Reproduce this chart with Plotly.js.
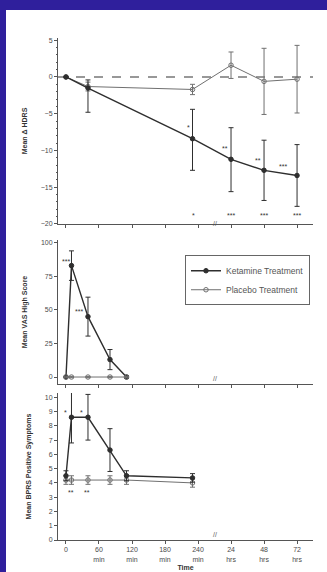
<!DOCTYPE html>
<html>
<head>
<meta charset="utf-8">
<script src="https://cdn.plot.ly/plotly-3.0.1.min.js"></script>
<style>
  html, body { margin: 0; padding: 0; background: #2f1f9c; width: 327px; height: 572px; overflow: hidden; }
  #chart { position: absolute; left: 6px; top: 10px; width: 321px; height: 562px; background: #fff; }
</style>
</head>
<body>
<div id="chart"></div>
<script>
// ---- Data ----
// x positions: minutes 0..240, then 24 hrs -> 300, 48 hrs -> 360, 72 hrs -> 420 (broken axis)
const tickVals = [0, 60, 120, 180, 240, 300, 360, 420];
const tickText = ["0", "60<br>min", "120<br>min", "180<br>min", "240<br>min", "24<br>hrs", "48<br>hrs", "72<br>hrs"];

// Panel 1: Mean change in HDRS
const timeHdrs = [0, 40, 230, 300, 360, 420];
const hdrsKet = [0, -1.5, -8.4, -11.2, -12.7, -13.4];
const hdrsKetErrPlus = [0, 1.1, 4.0, 4.3, 4.1, 4.2];
const hdrsKetErrMinus = [0, 3.3, 4.3, 4.4, 4.1, 4.2];
const hdrsPla = [0, -1.3, -1.7, 1.6, -0.6, -0.3];
const hdrsPlaErr = [0, 0.6, 0.7, 1.8, 4.5, 4.6];

// Panel 2: Mean VAS High Score
const timeVas = [0, 10, 40, 80, 110];
const vasKet = [0, 83, 45, 13, 0];
const vasKetErr = [0, 11, 14.5, 7.5, 1];
const vasPla = [0, 0, 0, 0, 0];
const vasPlaErr = [0, 0.5, 0.5, 0.5, 0.5];

// Panel 3: Mean BPRS Positive Symptoms
const timeBprs = [0, 10, 40, 80, 110, 230];
const bprsKet = [4.5, 8.6, 8.6, 6.3, 4.5, 4.35];
const bprsKetErr = [0.35, 1.8, 1.6, 1.5, 0.35, 0.3];
const bprsPla = [4.2, 4.2, 4.2, 4.2, 4.2, 4.0];
const bprsPlaErr = [0.3, 0.3, 0.3, 0.3, 0.3, 0.3];

// Significance marks
const sigHdrs = [
  {x: 222, y: -6.9, t: "*"}, {x: 289, y: -9.7, t: "**"}, {x: 349, y: -11.4, t: "**"}, {x: 395, y: -12.2, t: "***"},
  {x: 231, y: -18.8, t: "*"}, {x: 300, y: -18.8, t: "***"}, {x: 360, y: -18.8, t: "***"}, {x: 420, y: -18.8, t: "***"}
];
const sigVas = [{x: 0, y: 86, t: "***"}, {x: 24, y: 48.5, t: "***"}];
const sigBprs = [{x: 0, y: 8.9, t: "*"}, {x: 29, y: 8.9, t: "*"}, {x: 9, y: 3.3, t: "**"}, {x: 38, y: 3.3, t: "**"}];

const labelKet = "Ketamine Treatment";
const labelPla = "Placebo Treatment";

// ---- Styles ----
const ketColor = "#2e2e2e";
const plaColor = "#707070";
const axisColor = "#555";
const font = {family: "Liberation Sans, Arial, sans-serif", size: 7, color: "#4a4a4a"};

function ketTrace(x, y, errP, errM, xa, ya, show) {
  return {
    x: x, y: y, xaxis: xa, yaxis: ya, type: "scatter", mode: "lines+markers",
    name: labelKet, legendgroup: "k", showlegend: show,
    line: {color: ketColor, width: 1.4},
    marker: {symbol: "circle", size: 4.5, color: ketColor, line: {color: ketColor, width: 1}},
    error_y: {type: "data", symmetric: false, array: errP, arrayminus: errM, color: ketColor, thickness: 1, width: 2.5}
  };
}
function plaTrace(x, y, err, xa, ya, show) {
  return {
    x: x, y: y, xaxis: xa, yaxis: ya, type: "scatter", mode: "lines+markers",
    name: labelPla, legendgroup: "p", showlegend: show,
    line: {color: plaColor, width: 1},
    marker: {symbol: "circle-open", size: 4.5, color: plaColor, line: {color: plaColor, width: 1}},
    error_y: {type: "data", array: err, color: plaColor, thickness: 1, width: 2.5}
  };
}

const data = [
  plaTrace(timeHdrs, hdrsPla, hdrsPlaErr, "x", "y", false),
  ketTrace(timeHdrs, hdrsKet, hdrsKetErrPlus, hdrsKetErrMinus, "x", "y", false),
  ketTrace(timeVas, vasKet, vasKetErr, vasKetErr, "x2", "y2", true),
  plaTrace(timeVas, vasPla, vasPlaErr, "x2", "y2", true),
  plaTrace(timeBprs, bprsPla, bprsPlaErr, "x3", "y3", false),
  ketTrace(timeBprs, bprsKet, bprsKetErr, bprsKetErr, "x3", "y3", false)
];

const xRange = [-14.5, 449];
function xAxis(anchor, labels) {
  return {
    anchor: anchor, range: xRange, tickmode: "array", tickvals: tickVals, ticktext: tickText,
    showticklabels: labels, ticks: "outside", ticklen: 3, tickcolor: axisColor, tickwidth: 1,
    showline: true, linecolor: axisColor, linewidth: 1, showgrid: false, zeroline: false,
    tickfont: font, automargin: false
  };
}
function yAxis(anchor, domain, range, dtick, minor, title) {
  return {
    anchor: anchor, domain: domain, range: range, dtick: dtick, tick0: 0,
    ticks: "outside", ticklen: 3, tickcolor: axisColor, tickwidth: 1,
    minor: minor ? {dtick: minor, ticks: "outside", ticklen: 1.5, tickcolor: axisColor} : undefined,
    showline: true, linecolor: axisColor, linewidth: 1, showgrid: false, zeroline: false,
    tickfont: font, automargin: false,
    title: {text: title, font: {family: font.family, size: 7, color: "#333", weight: "bold"}, standoff: 12}
  };
}

const dTop = [0.627, 0.996], dMid = [0.3095, 0.595], dBot = [0, 0.2917];

const annotations = [];
function addSig(list, xa, ya) {
  list.forEach(s => annotations.push({x: s.x, y: s.y, xref: xa, yref: ya, text: s.t, showarrow: false,
    font: {family: font.family, size: 7, color: "#333"}}));
}
addSig(sigHdrs, "x", "y");
addSig(sigVas, "x2", "y2");
addSig(sigBprs, "x3", "y3");
// axis break marks
[dTop[0], dMid[0], dBot[0]].forEach(d => annotations.push({x: 271, y: d, xref: "x", yref: "paper", text: "//",
  showarrow: false, font: {family: font.family, size: 7, color: "#555"}}));

const layout = {
  width: 321, height: 562,
  margin: {l: 52, r: 14, t: 26, b: 32},
  paper_bgcolor: "#ffffff", plot_bgcolor: "#ffffff",
  font: font,
  xaxis: xAxis("y", false),
  xaxis2: xAxis("y2", false),
  xaxis3: Object.assign(xAxis("y3", true), {title: {text: "Time", font: {family: font.family, size: 7, color: "#333", weight: "bold"}, standoff: 3}}),
  yaxis: yAxis("x", dTop, [-20, 5.3], 5, 1, "Mean Δ HDRS"),
  yaxis2: yAxis("x2", dMid, [-5.2, 102], 25, null, "Mean VAS High Score"),
  yaxis3: yAxis("x3", dBot, [0, 10.3], 1, null, "Mean BPRS Positive Symptoms"),
  showlegend: true,
  legend: {x: 0.498, y: 0.565, xanchor: "left", yanchor: "top", bordercolor: "#666", borderwidth: 1,
    bgcolor: "#ffffff", font: {family: font.family, size: 8.5, color: "#555"}, itemwidth: 30, tracegroupgap: 0},
  shapes: [
    {type: "line", xref: "paper", yref: "y", x0: 0, x1: 1, y0: 0, y1: 0,
     line: {color: "#777", width: 1.5, dash: "dash"}, layer: "below"}
  ],
  annotations: annotations
};

Plotly.newPlot("chart", data, layout, {displayModeBar: false, staticPlot: true});
</script>
</body>
</html>
